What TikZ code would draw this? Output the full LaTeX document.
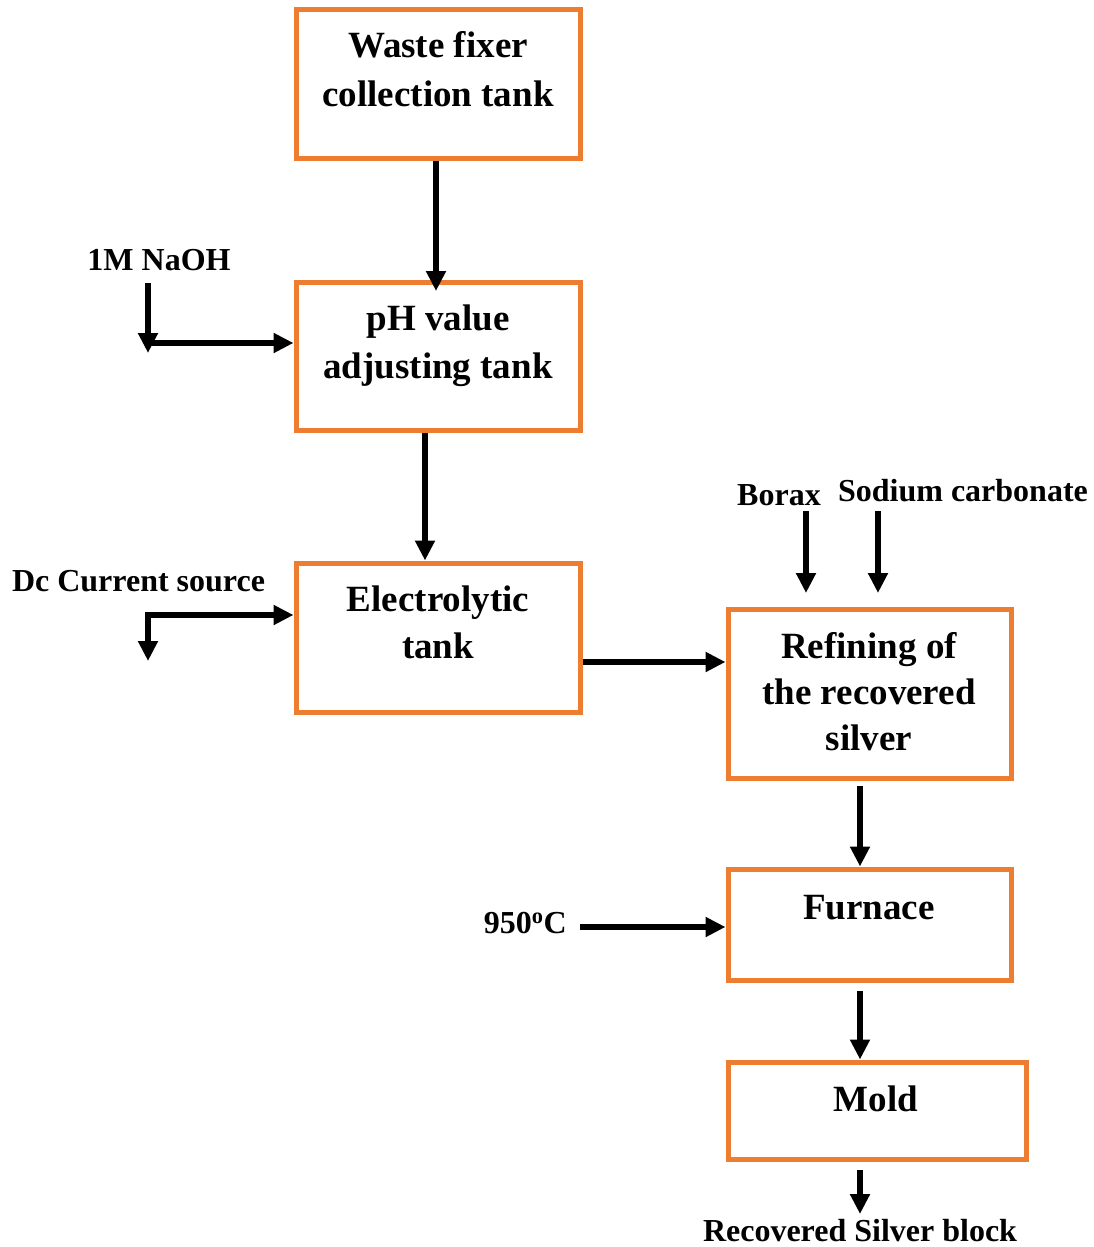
\documentclass[tikz,border=0pt]{standalone}
\usepackage{fontspec}
\setmainfont{Liberation Serif}
\usetikzlibrary{arrows.meta}
\definecolor{boxorange}{HTML}{ED7D31}
\begin{document}
\begin{tikzpicture}[x=1pt,y=-1pt,
  box/.style={draw=boxorange, line width=5pt, rectangle, inner sep=0pt, fill=none},
  boxtext/.style={anchor=base, inner sep=0pt, font=\fontsize{37}{44}\selectfont\bfseries},
  lbl/.style={anchor=base, inner sep=0pt, font=\fontsize{32}{38}\selectfont\bfseries},
  arr/.style={line width=6pt, -{Triangle[length=20pt,width=19pt]}},
  seg/.style={line width=6pt}]
\useasboundingbox (0,0) rectangle (1094,1247);

% boxes
\node[box, minimum width=284pt, minimum height=148pt] (b1) at (438,84) {};
\node[box, minimum width=284pt, minimum height=148pt] (b2) at (438,356) {};
\node[box, minimum width=284pt, minimum height=149pt] (b3) at (438,637.5) {};
\node[box, minimum width=283pt, minimum height=169pt] (b4) at (869.5,693.5) {};
\node[box, minimum width=283pt, minimum height=111pt] (b5) at (869.5,924.5) {};
\node[box, minimum width=298pt, minimum height=97pt] (b6) at (877,1110.5) {};

% box texts
\node[boxtext] (t1a) at (438,58) {Waste fixer};
\node[boxtext] (t1b) at (438,106) {collection tank};
\node[boxtext] (t2a) at (438,330) {pH value};
\node[boxtext] (t2b) at (438,378) {adjusting tank};
\node[boxtext] (t3a) at (438,611) {Electrolytic};
\node[boxtext] (t3b) at (438,658) {tank};
\node[boxtext] (t4a) at (869,658) {Refining of};
\node[boxtext] (t4b) at (869,704) {the recovered};
\node[boxtext] (t4c) at (869,750) {silver};
\node[boxtext] (t5) at (869,919) {Furnace};
\node[boxtext] (t6) at (876,1111) {Mold};

% labels
\node[lbl] (naoh) at (159,270) {1M NaOH};
\node[lbl] (dc) at (138.5,591) {Dc Current source};
\node[lbl] (borax) at (779,505) {Borax};
\node[lbl] (soda) at (963,501) {Sodium carbonate};
\node[lbl, anchor=base east] (temp) at (567,933) {950\textsuperscript{o}C};
\node[lbl] (rsb) at (860,1241) {Recovered Silver block};

% helper coordinates
\coordinate (x436) at (436,0);
\coordinate (x425) at (425,0);
\coordinate (x860) at (860,0);
\coordinate (y662) at (0,662);
\coordinate (b2in) at (436,291);
\coordinate (naohtop) at (148,283);
\coordinate (naohbot) at (148,353);
\coordinate (naohcorner) at (148,343);
\coordinate (dccorner) at (148,615);
\coordinate (dcbot) at (148,661);
\coordinate (boraxtop) at (806,511);
\coordinate (boraxtip) at (806,593);
\coordinate (sodatop) at (878,511);
\coordinate (sodatip) at (878,593);
\coordinate (temptail) at (580,927);
\coordinate (rsbtip) at (860,1214);
\coordinate (moldout) at (860,1170);

% connectors
\draw[arr] (b1.south -| x436) -- (b2in);
\draw[arr] (b2.south -| x425) -- (b3.north -| x425);
\draw[arr] (naohtop) -- (naohbot);
\draw[arr] (naohcorner) -- (naohcorner -| b2.west);
\draw[arr] (dccorner) -- (dccorner -| b3.west);
\draw[seg] (dccorner) ++(0,-3) -- ++(0,3);
\draw[arr] ([yshift=3pt]dccorner) -- (dcbot);
\draw[arr] (b3.east |- y662) -- (b4.west |- y662);
\draw[arr] (boraxtop) -- (boraxtip);
\draw[arr] (sodatop) -- (sodatip);
\draw[arr] ([yshift=-5pt]b4.south -| x860) -- (b5.north -| x860);
\draw[arr] (temptail) -- (temptail -| b5.west);
\draw[arr] ([yshift=-8pt]b5.south -| x860) -- (b6.north -| x860);
\draw[arr] (moldout) -- (rsbtip);
\end{tikzpicture}
\end{document}
